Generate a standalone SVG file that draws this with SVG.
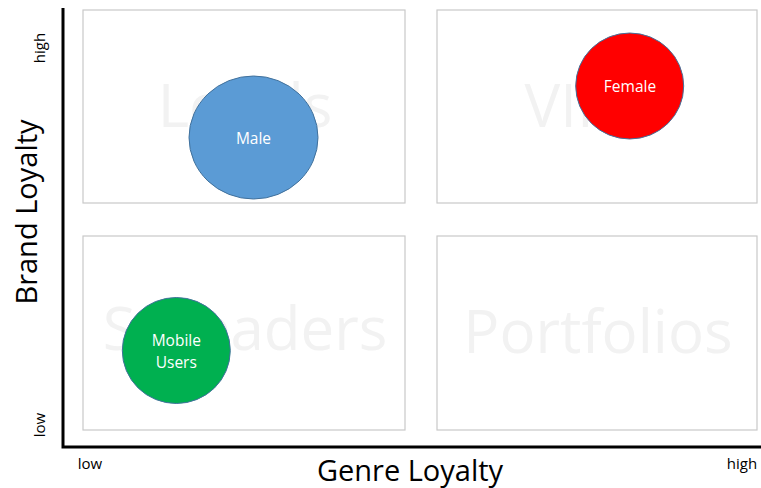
<svg xmlns="http://www.w3.org/2000/svg" width="761" height="488" viewBox="0 0 761 488">
  <style>
    .quad { fill: #ffffff; stroke: #c9c9c9; stroke-width: 1.2; }
    .watermark { font-family: "Open Sans", "Noto Sans", sans-serif; font-size: 60px; fill: #f2f2f2; text-anchor: middle; }
    .bubble-label { font-family: "Open Sans", "Noto Sans", sans-serif; font-size: 15.5px; fill: #ffffff; text-anchor: middle; }
    .axis-title { font-family: "Open Sans", "Noto Sans", sans-serif; font-size: 29px; fill: #000000; text-anchor: middle; }
    .tick { font-family: "Open Sans", "Noto Sans", sans-serif; font-size: 15px; fill: #000000; text-anchor: middle; }
    .axis { fill: none; stroke: #000000; stroke-width: 3; }
  </style>

  <rect width="761" height="488" fill="#ffffff"/>

  <!-- quadrants -->
  <g id="quad-loyals">
    <rect class="quad" x="83" y="10" width="322" height="193"/>
    <text class="watermark" x="245" y="127">Loyals</text>
  </g>
  <g id="quad-vips">
    <rect class="quad" x="437" y="10" width="320" height="193"/>
    <text class="watermark" x="583" y="127">VIPs</text>
  </g>
  <g id="quad-spreaders">
    <rect class="quad" x="83" y="236" width="322" height="194"/>
    <text class="watermark" x="245" y="350">Spreaders</text>
  </g>
  <g id="quad-portfolios">
    <rect class="quad" x="437" y="236" width="320" height="194"/>
    <text class="watermark" x="598" y="353">Portfolios</text>
  </g>

  <!-- axes -->
  <g id="axes">
    <polyline class="axis" points="63,8 63,447 761,447"/>
    <text class="axis-title" transform="translate(37,212) rotate(-90)">Brand Loyalty</text>
    <text class="axis-title" x="410" y="481">Genre Loyalty</text>
    <text class="tick" transform="translate(45,48) rotate(-90)">high</text>
    <text class="tick" transform="translate(45,425) rotate(-90)">low</text>
    <text class="tick" x="90" y="469">low</text>
    <text class="tick" x="742" y="469">high</text>
  </g>

  <!-- segments -->
  <g id="male">
    <ellipse cx="253.5" cy="137.5" rx="64.5" ry="61.5" fill="#5b9bd5" stroke="#41719c" stroke-width="1"/>
    <text class="bubble-label" x="253.5" y="144">Male</text>
  </g>
  <g id="female">
    <ellipse cx="629.7" cy="86" rx="54" ry="53" fill="#ff0000" stroke="#41719c" stroke-width="1"/>
    <text class="bubble-label" x="630" y="92">Female</text>
  </g>
  <g id="mobile-users">
    <ellipse cx="176.3" cy="350.5" rx="54" ry="53" fill="#00b050" stroke="#41719c" stroke-width="1"/>
    <text class="bubble-label" x="176.3" y="345.5">Mobile</text>
    <text class="bubble-label" x="176.3" y="367.5">Users</text>
  </g>
</svg>
